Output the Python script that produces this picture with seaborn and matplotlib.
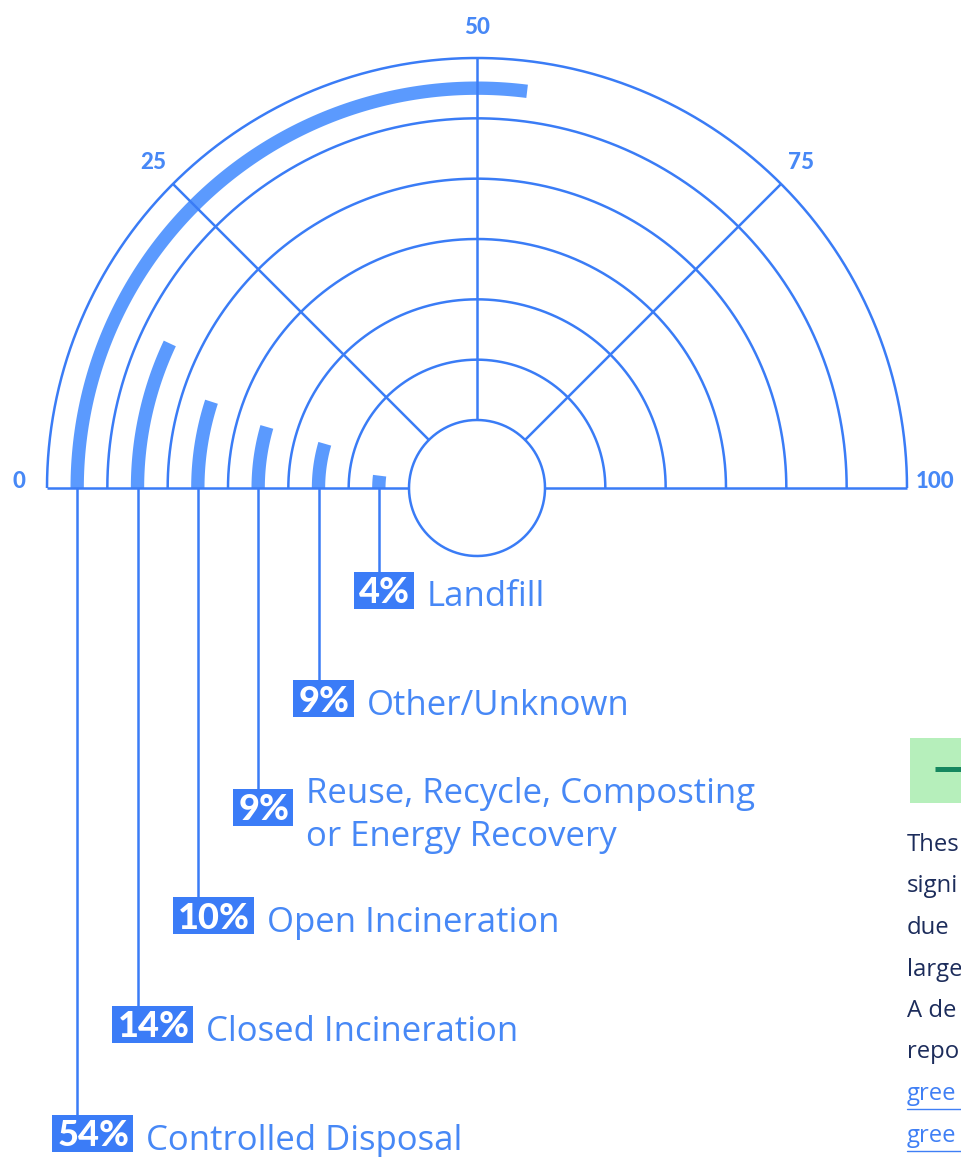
import numpy as np
import pandas as pd
import matplotlib
matplotlib.use('Agg')
import matplotlib.pyplot as plt
from matplotlib.patches import Rectangle
import seaborn as sns

# data
categories = ['Controlled Disposal', 'Closed Incineration', 'Open Incineration',
              'Reuse, Recycle, Composting\nor Energy Recovery', 'Other/Unknown', 'Landfill']
shares = [54, 14, 10, 9, 9, 4]
scale_ticks = [0, 25, 50, 75, 100]
side_lines = ['Thes', 'signi', 'due', 'large', 'A de', 'repo', 'gree', 'gree']

LINE = '#3a7cf6'
BAR = '#5b9afe'
BOX = '#3b7cf7'
TEXT = '#4788f6'
NAVY = '#1c2c5b'
LABEL_FONT = ['Open Sans', 'DejaVu Sans']

sns.set_style('white')
plt.rcParams['font.family'] = ['Lato', 'DejaVu Sans']

fig = plt.figure(figsize=(9.62, 11.57), dpi=100)
ax = fig.add_axes([0, 0, 1, 1])

r_in, r_out = 68, 430
rings = np.linspace(r_in, r_out, len(categories) + 1)
bar_r = ((rings[1:] + rings[:-1]) / 2)[::-1]   # outermost first


def to_angle(v):
    return np.pi * (1 - np.asarray(v, dtype=float) / 100)


# arc bars through seaborn
rows = []
for cat, val, r in zip(categories, shares, bar_r):
    for a in np.linspace(np.pi, to_angle(val), 120):
        rows.append({'category': cat, 'x': r * np.cos(a), 'y': r * np.sin(a)})
arcs = pd.DataFrame(rows)
sns.lineplot(data=arcs, x='x', y='y', units='category', estimator=None, sort=False,
             color=BAR, lw=9.6, solid_capstyle='butt', legend=False, ax=ax, zorder=1)

# grid: rings, centre circle, baseline, spokes
kw = dict(color=LINE, lw=1.8, zorder=2, solid_capstyle='butt')
t = np.linspace(0, np.pi, 400)
for r in rings[1:]:
    ax.plot(r * np.cos(t), r * np.sin(t), **kw)
tc = np.linspace(0, 2 * np.pi, 400)
ax.plot(r_in * np.cos(tc), r_in * np.sin(tc), **kw)
ax.plot([-r_out, -r_in], [0, 0], **kw)
ax.plot([r_in, r_out], [0, 0], **kw)
for v in scale_ticks[1:-1]:
    a = to_angle(v)
    ax.plot([r_in * np.cos(a), r_out * np.cos(a)], [r_in * np.sin(a), r_out * np.sin(a)], **kw)

for v in scale_ticks:
    a = to_angle(v)
    lift = 7 if v in (0, 100) else 0
    ax.text(458 * np.cos(a), 460 * np.sin(a) + lift, str(v), color=TEXT, fontsize=16,
            fontweight='black', ha='center', va='center')

# labels with leader lines
fig.canvas.draw()
renderer = fig.canvas.get_renderer()
inv = ax.transData.inverted()
n = len(categories)
box_h = 37
for i, (cat, val, r) in enumerate(zip(categories, shares, bar_r)):
    x0 = -r
    ly = -102 - 108.6 * (n - 1 - i)
    bottom = ly - box_h / 2
    ax.plot([x0, x0], [0, ly + box_h / 2], **kw)
    pct = ax.text(x0 - 20, bottom + 5.5, f'{val}%', color='white', fontsize=26,
                  fontweight='black', ha='left', va='baseline', zorder=4)
    ext = pct.get_window_extent(renderer)
    (xa, _), (xb, _) = inv.transform([[ext.x0, ext.y0], [ext.x1, ext.y1]])
    ax.add_patch(Rectangle((xa - 5, bottom), (xb - xa) + 10, box_h,
                           facecolor=BOX, edgecolor='none', zorder=3))
    parts = cat.split('\n')
    base = bottom + 2 if len(parts) == 1 else ly + 4
    for j, line in enumerate(parts):
        ax.text(xb + 18, base - 43 * j, line, color=TEXT, fontsize=25, ha='left',
                va='baseline', family=LABEL_FONT, zorder=4)

# cut-off sidebar on the right edge
ax.add_patch(Rectangle((433, -315), 60, 65, facecolor='#b6efbb', edgecolor='none'))
ax.plot([458, 490], [-281, -281], color='#16875f', lw=3.6, solid_capstyle='butt')
for k, s in enumerate(side_lines):
    y = 488 - (845 + 41.5 * k)
    col = NAVY if k < 6 else '#3f7ff5'
    ax.text(430, y, s, color=col, fontsize=17.2, ha='left', va='center', family=LABEL_FONT)
    if k >= 6:
        ax.plot([430, 490], [y - 15, y - 15], color=col, lw=1.0)

ax.set_xlim(-477, 485)
ax.set_ylim(-669, 488)
ax.axis('off')

fig.savefig('out.png', dpi=100, facecolor='white')
